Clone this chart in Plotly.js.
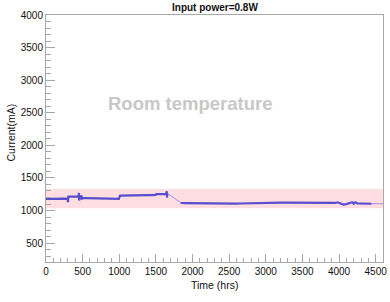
<!DOCTYPE html>
<html>
<head>
<meta charset="utf-8">
<script src="https://cdn.plot.ly/plotly-3.0.1.min.js"></script>
<style>html,body{margin:0;padding:0;background:#fff;}#chart{width:390px;height:302px;}</style>
</head>
<body>
<div id="chart"></div>
<script>
// Time (hrs) and current (mA)
var timeHrs = [0, 50, 100, 150, 200, 250, 295, 300, 305, 350, 400, 445, 450, 453, 458, 480, 484, 488, 495, 500,
  550, 600, 650, 700, 750, 800, 850, 900, 950, 995, 1010, 1050, 1100, 1150, 1200, 1250, 1300, 1350, 1400, 1450,
  1495, 1505, 1550, 1600, 1640, 1648, 1652, 1656, 1840, 1850, 1900, 1950, 2000, 2050, 2100, 2150, 2200, 2250,
  2300, 2350, 2400, 2450, 2500, 2550, 2600, 2650, 2700, 2750, 2800, 2850, 2900, 2950, 3000, 3050, 3100, 3150,
  3200, 3250, 3300, 3350, 3400, 3450, 3500, 3550, 3600, 3650, 3700, 3750, 3800, 3850, 3900, 3950, 3980, 4000,
  4030, 4060, 4100, 4150, 4180, 4200, 4220, 4250, 4300, 4350, 4400, 4440, 4600];
var currentMA = [1180, 1182, 1180, 1181, 1180, 1182, 1180, 1128, 1213, 1214, 1215, 1214, 1270, 1155, 1212, 1210, 1235, 1168, 1205, 1192,
  1190, 1188, 1187, 1186, 1185, 1184, 1183, 1182, 1181, 1180, 1228, 1230, 1231, 1232, 1232, 1233, 1234, 1235, 1236, 1237,
  1238, 1252, 1253, 1254, 1256, 1295, 1200, 1262, 1120, 1115, 1114, 1113, 1112, 1110, 1108, 1106, 1105, 1104,
  1103, 1104, 1105, 1104, 1103, 1104, 1106, 1108, 1110, 1112, 1114, 1115, 1116, 1117, 1118, 1118, 1119, 1119,
  1120, 1120, 1120, 1121, 1120, 1119, 1118, 1114, 1112, 1112, 1113, 1114, 1114, 1115, 1114, 1116, 1126, 1116,
  1095, 1092, 1098, 1110, 1128, 1105, 1126, 1110, 1106, 1105, 1104, 1104, 1104];
var bandLow = 1035, bandHigh = 1330;
var xRange = [0, 4600], yRange = [210, 4000];
var titleText = 'Input power=0.8W';
var xTitle = 'Time (hrs)', yTitle = 'Current(mA)';
var labelText = 'Room temperature';

var FONT = 'Liberation Sans, Arial, sans-serif';
var gapIdx = timeHrs.indexOf(1656);
var denseX = timeHrs.slice(0, gapIdx + 1).concat([null]).concat(timeHrs.slice(gapIdx + 1, timeHrs.length - 1));
var denseY = currentMA.slice(0, gapIdx + 1).concat([null]).concat(currentMA.slice(gapIdx + 1, currentMA.length - 1));

var traces = [
  {x: [xRange[0], xRange[1], xRange[1], xRange[0], xRange[0]], y: [bandLow, bandLow, bandHigh, bandHigh, bandLow],
   type: 'scatter', mode: 'lines', fill: 'toself', fillcolor: 'rgba(255,210,215,0.75)', line: {width: 0}, hoverinfo: 'skip'},
  {x: timeHrs, y: currentMA, type: 'scatter', mode: 'lines', line: {color: 'rgba(120,110,225,0.7)', width: 1}},
  {x: denseX, y: denseY, type: 'scatter', mode: 'lines', line: {color: 'rgb(88,78,208)', width: 2.2}, connectgaps: false}
];

var axisCommon = {
  showgrid: false, zeroline: false, showline: true, linecolor: '#a8a8a8', linewidth: 1, mirror: true,
  ticks: 'inside', tickcolor: '#a8a8a8', tickwidth: 1,
  tickfont: {family: FONT, size: 10, color: '#111'}
};
var layout = {
  width: 390, height: 302,
  margin: {l: 46, r: 7, t: 15, b: 40},
  paper_bgcolor: '#fff', plot_bgcolor: '#fff',
  showlegend: false,
  xaxis: Object.assign({}, axisCommon, {range: xRange, dtick: 500, tick0: 0, ticklen: 8,
    minor: {dtick: 100, ticks: 'inside', ticklen: 4, tickcolor: '#a8a8a8', showgrid: false}}),
  yaxis: Object.assign({}, axisCommon, {range: yRange, dtick: 500, tick0: 0, ticklen: 9,
    minor: {dtick: 100, ticks: 'inside', ticklen: 4.5, tickcolor: '#a8a8a8', showgrid: false}}),
  annotations: [
    {text: '<b>' + titleText + '</b>', xref: 'paper', yref: 'paper', x: 0.5, y: 1, yshift: 8, showarrow: false,
     xanchor: 'center', yanchor: 'middle', font: {family: FONT, size: 10, color: '#111'}},
    {text: xTitle, xref: 'paper', yref: 'paper', x: 0.5, y: 0, yshift: -15, showarrow: false,
     xanchor: 'center', yanchor: 'top', font: {family: FONT, size: 10.5, color: '#111'}},
    {text: yTitle, xref: 'paper', yref: 'paper', x: 0, xshift: -36, y: 0.5, yshift: 6, textangle: -90, showarrow: false,
     xanchor: 'center', yanchor: 'middle', font: {family: FONT, size: 10.5, color: '#111'}},
    {text: '<b>' + labelText + '</b>', xref: 'x', yref: 'y', x: 1960, y: 2640, showarrow: false,
     xanchor: 'center', yanchor: 'middle', font: {family: FONT, size: 18.5, color: '#c8c8c8'}}
  ]
};
Plotly.newPlot('chart', traces, layout, {staticPlot: true, displayModeBar: false});
</script>
</body>
</html>
